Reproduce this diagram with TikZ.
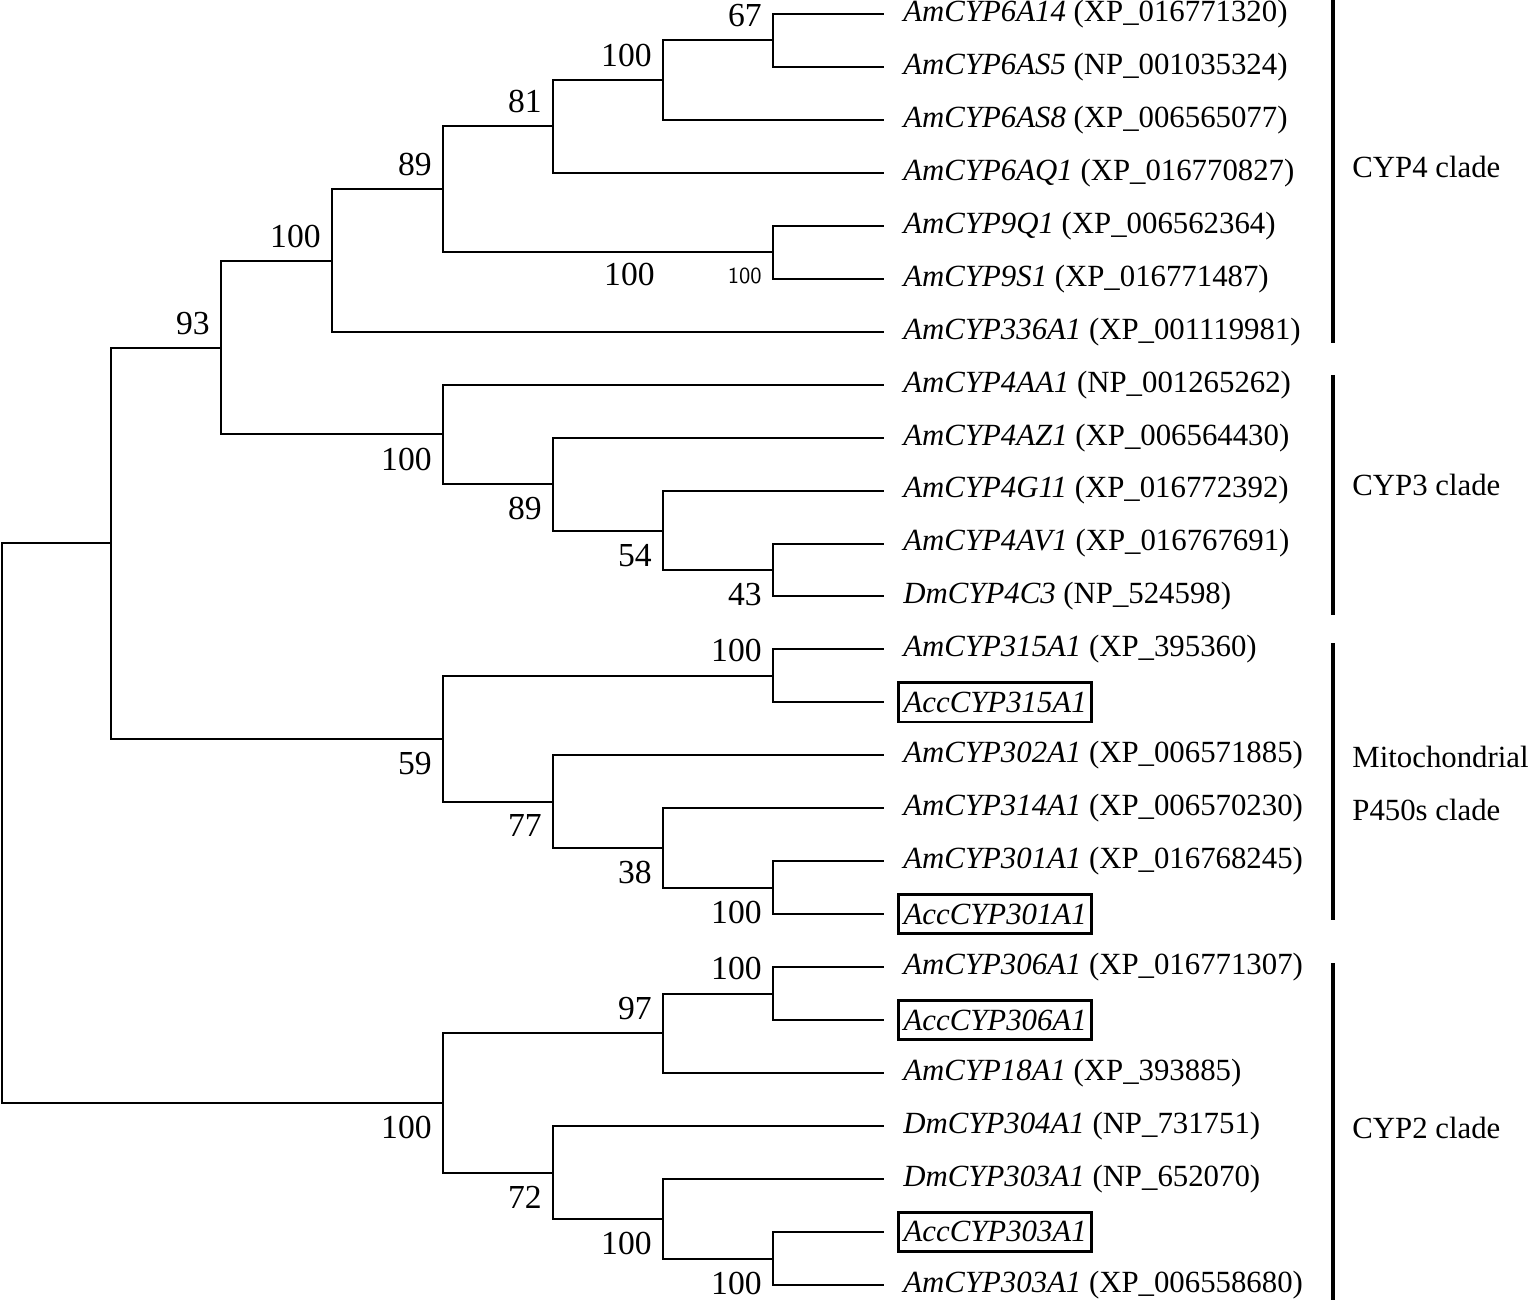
\documentclass[tikz,border=0pt]{standalone}
\usepackage{fontspec}
\setmainfont{Liberation Serif}
\usetikzlibrary{positioning}

\begin{document}
\begin{tikzpicture}[x=0.5pt,y=-0.5pt,
    branch/.style={line width=1pt, line join=miter},
    leaf/.style={anchor=west, inner sep=0pt, font=\fontsize{15.4}{18}\selectfont},
    accbox/.style={draw, line width=1.4pt, anchor=west, inner xsep=2.6pt, inner ysep=4.6pt, font=\fontsize{15.4}{18}\selectfont\itshape},
    bootup/.style={anchor=south east, inner sep=0pt, font=\fontsize{16.8}{20}\selectfont},
    bootdn/.style={anchor=north east, inner sep=0pt, font=\fontsize{16.8}{20}\selectfont},
    cladebar/.style={line width=2pt},
    cladename/.style={anchor=west, inner sep=0pt, font=\fontsize{15.4}{18}\selectfont}]
    \useasboundingbox (0,0) rectangle (1535,1304);

    % leaf tips
    \foreach \i in {1,...,25}
        \coordinate (t\i) at (884,{14+52.95*(\i-1)});

    % leaf names
    \foreach \i/\g/\a in {1/AmCYP6A14/XP\_016771320, 2/AmCYP6AS5/NP\_001035324,
        3/AmCYP6AS8/XP\_006565077, 4/AmCYP6AQ1/XP\_016770827, 5/AmCYP9Q1/XP\_006562364,
        6/AmCYP9S1/XP\_016771487, 7/AmCYP336A1/XP\_001119981, 8/AmCYP4AA1/NP\_001265262,
        9/AmCYP4AZ1/XP\_006564430, 10/AmCYP4G11/XP\_016772392, 11/AmCYP4AV1/XP\_016767691,
        12/DmCYP4C3/NP\_524598, 13/AmCYP315A1/XP\_395360, 15/AmCYP302A1/XP\_006571885,
        16/AmCYP314A1/XP\_006570230, 17/AmCYP301A1/XP\_016768245, 19/AmCYP306A1/XP\_016771307,
        21/AmCYP18A1/XP\_393885, 22/DmCYP304A1/NP\_731751, 23/DmCYP303A1/NP\_652070,
        25/AmCYP303A1/XP\_006558680}
        \node[leaf] (l\i) at (903,{14+52.95*(\i-1)}) {\textit{\g} (\a)};
    \foreach \i/\g in {14/AccCYP315A1, 18/AccCYP301A1, 20/AccCYP306A1, 24/AccCYP303A1}
        \node[accbox] (l\i) at (897,{14+52.95*(\i-1)}) {\g};

    % internal nodes
    \coordinate (a14s5) at (773,40.5);
    \coordinate (a6AS8) at (663,80);
    \coordinate (a6AQ1) at (553,126.5);
    \coordinate (a9) at (773,252.5);
    \coordinate (aCYP6) at (443,189.5);
    \coordinate (aCYP4) at (332,261);
    \coordinate (a4C3) at (773,570);
    \coordinate (a4G11) at (663,530.5);
    \coordinate (a4AZ1) at (553,484);
    \coordinate (aCYP3) at (443,434.5);
    \coordinate (aCYP43) at (221,348);
    \coordinate (a315) at (773,675.5);
    \coordinate (a301) at (773,887.5);
    \coordinate (a314) at (663,848);
    \coordinate (a302) at (553,801.5);
    \coordinate (aMito) at (443,738.5);
    \coordinate (aUpper) at (111,543);
    \coordinate (a306) at (773,993.5);
    \coordinate (a18) at (663,1033);
    \coordinate (a303) at (773,1258.5);
    \coordinate (aDm303) at (663,1219);
    \coordinate (a304) at (553,1172.5);
    \coordinate (aCYP2) at (443,1103);
    \coordinate (root) at (2,823);

    % branches
    \foreach \p/\c in {a14s5/t1, a14s5/t2, a6AS8/a14s5, a6AS8/t3, a6AQ1/a6AS8, a6AQ1/t4,
        a9/t5, a9/t6, aCYP6/a6AQ1, aCYP6/a9, aCYP4/aCYP6, aCYP4/t7,
        a4C3/t11, a4C3/t12, a4G11/t10, a4G11/a4C3, a4AZ1/t9, a4AZ1/a4G11,
        aCYP3/t8, aCYP3/a4AZ1, aCYP43/aCYP4, aCYP43/aCYP3,
        a315/t13, a315/t14, a301/t17, a301/t18, a314/t16, a314/a301,
        a302/t15, a302/a314, aMito/a315, aMito/a302, aUpper/aCYP43, aUpper/aMito,
        a306/t19, a306/t20, a18/a306, a18/t21, a303/t24, a303/t25,
        aDm303/t23, aDm303/a303, a304/t22, a304/aDm303, aCYP2/a18, aCYP2/a304,
        root/aUpper, root/aCYP2}
        \draw[branch] (\p) |- (\c);

    % bootstrap values
    \foreach \n/\v in {a14s5/67, a6AS8/100, a6AQ1/81, aCYP6/89, aCYP4/100, aCYP43/93,
        a315/100, a306/100, a18/97}
        \node[bootup] (b-\n) at ([shift={(-11,-13)}]\n) {\v};
    \foreach \n/\v in {aCYP3/100, a4AZ1/89, a4G11/54, a4C3/43, aMito/59, a302/77,
        a314/38, a301/100, aCYP2/100, a304/72, aDm303/100, a303/100}
        \node[bootdn] (b-\n) at ([shift={(-11,13)}]\n) {\v};
    \node[anchor=north east, inner sep=0pt, font=\sffamily\fontsize{11.5}{13}\selectfont] (b-a9) at ([shift={(-11,15)}]a9) {100};
    \node[bootdn] (b-mid9) at (655,263) {100};

    % clades
    \draw[cladebar] (1333,0) -- (1333,343);
    \draw[cladebar] (1333,375) -- (1333,615);
    \draw[cladebar] (1333,643) -- (1333,920);
    \draw[cladebar] (1333,963) -- (1333,1300);
    \node[cladename] (cyp4) at (1352,167) {CYP4 clade};
    \node[cladename] (cyp3) at (1352,485) {CYP3 clade};
    \node[cladename] (mito1) at (1352,757) {Mitochondrial};
    \node[cladename] (mito2) at (1352,810) {P450s clade};
    \node[cladename] (cyp2) at (1352,1128) {CYP2 clade};
\end{tikzpicture}
\end{document}
